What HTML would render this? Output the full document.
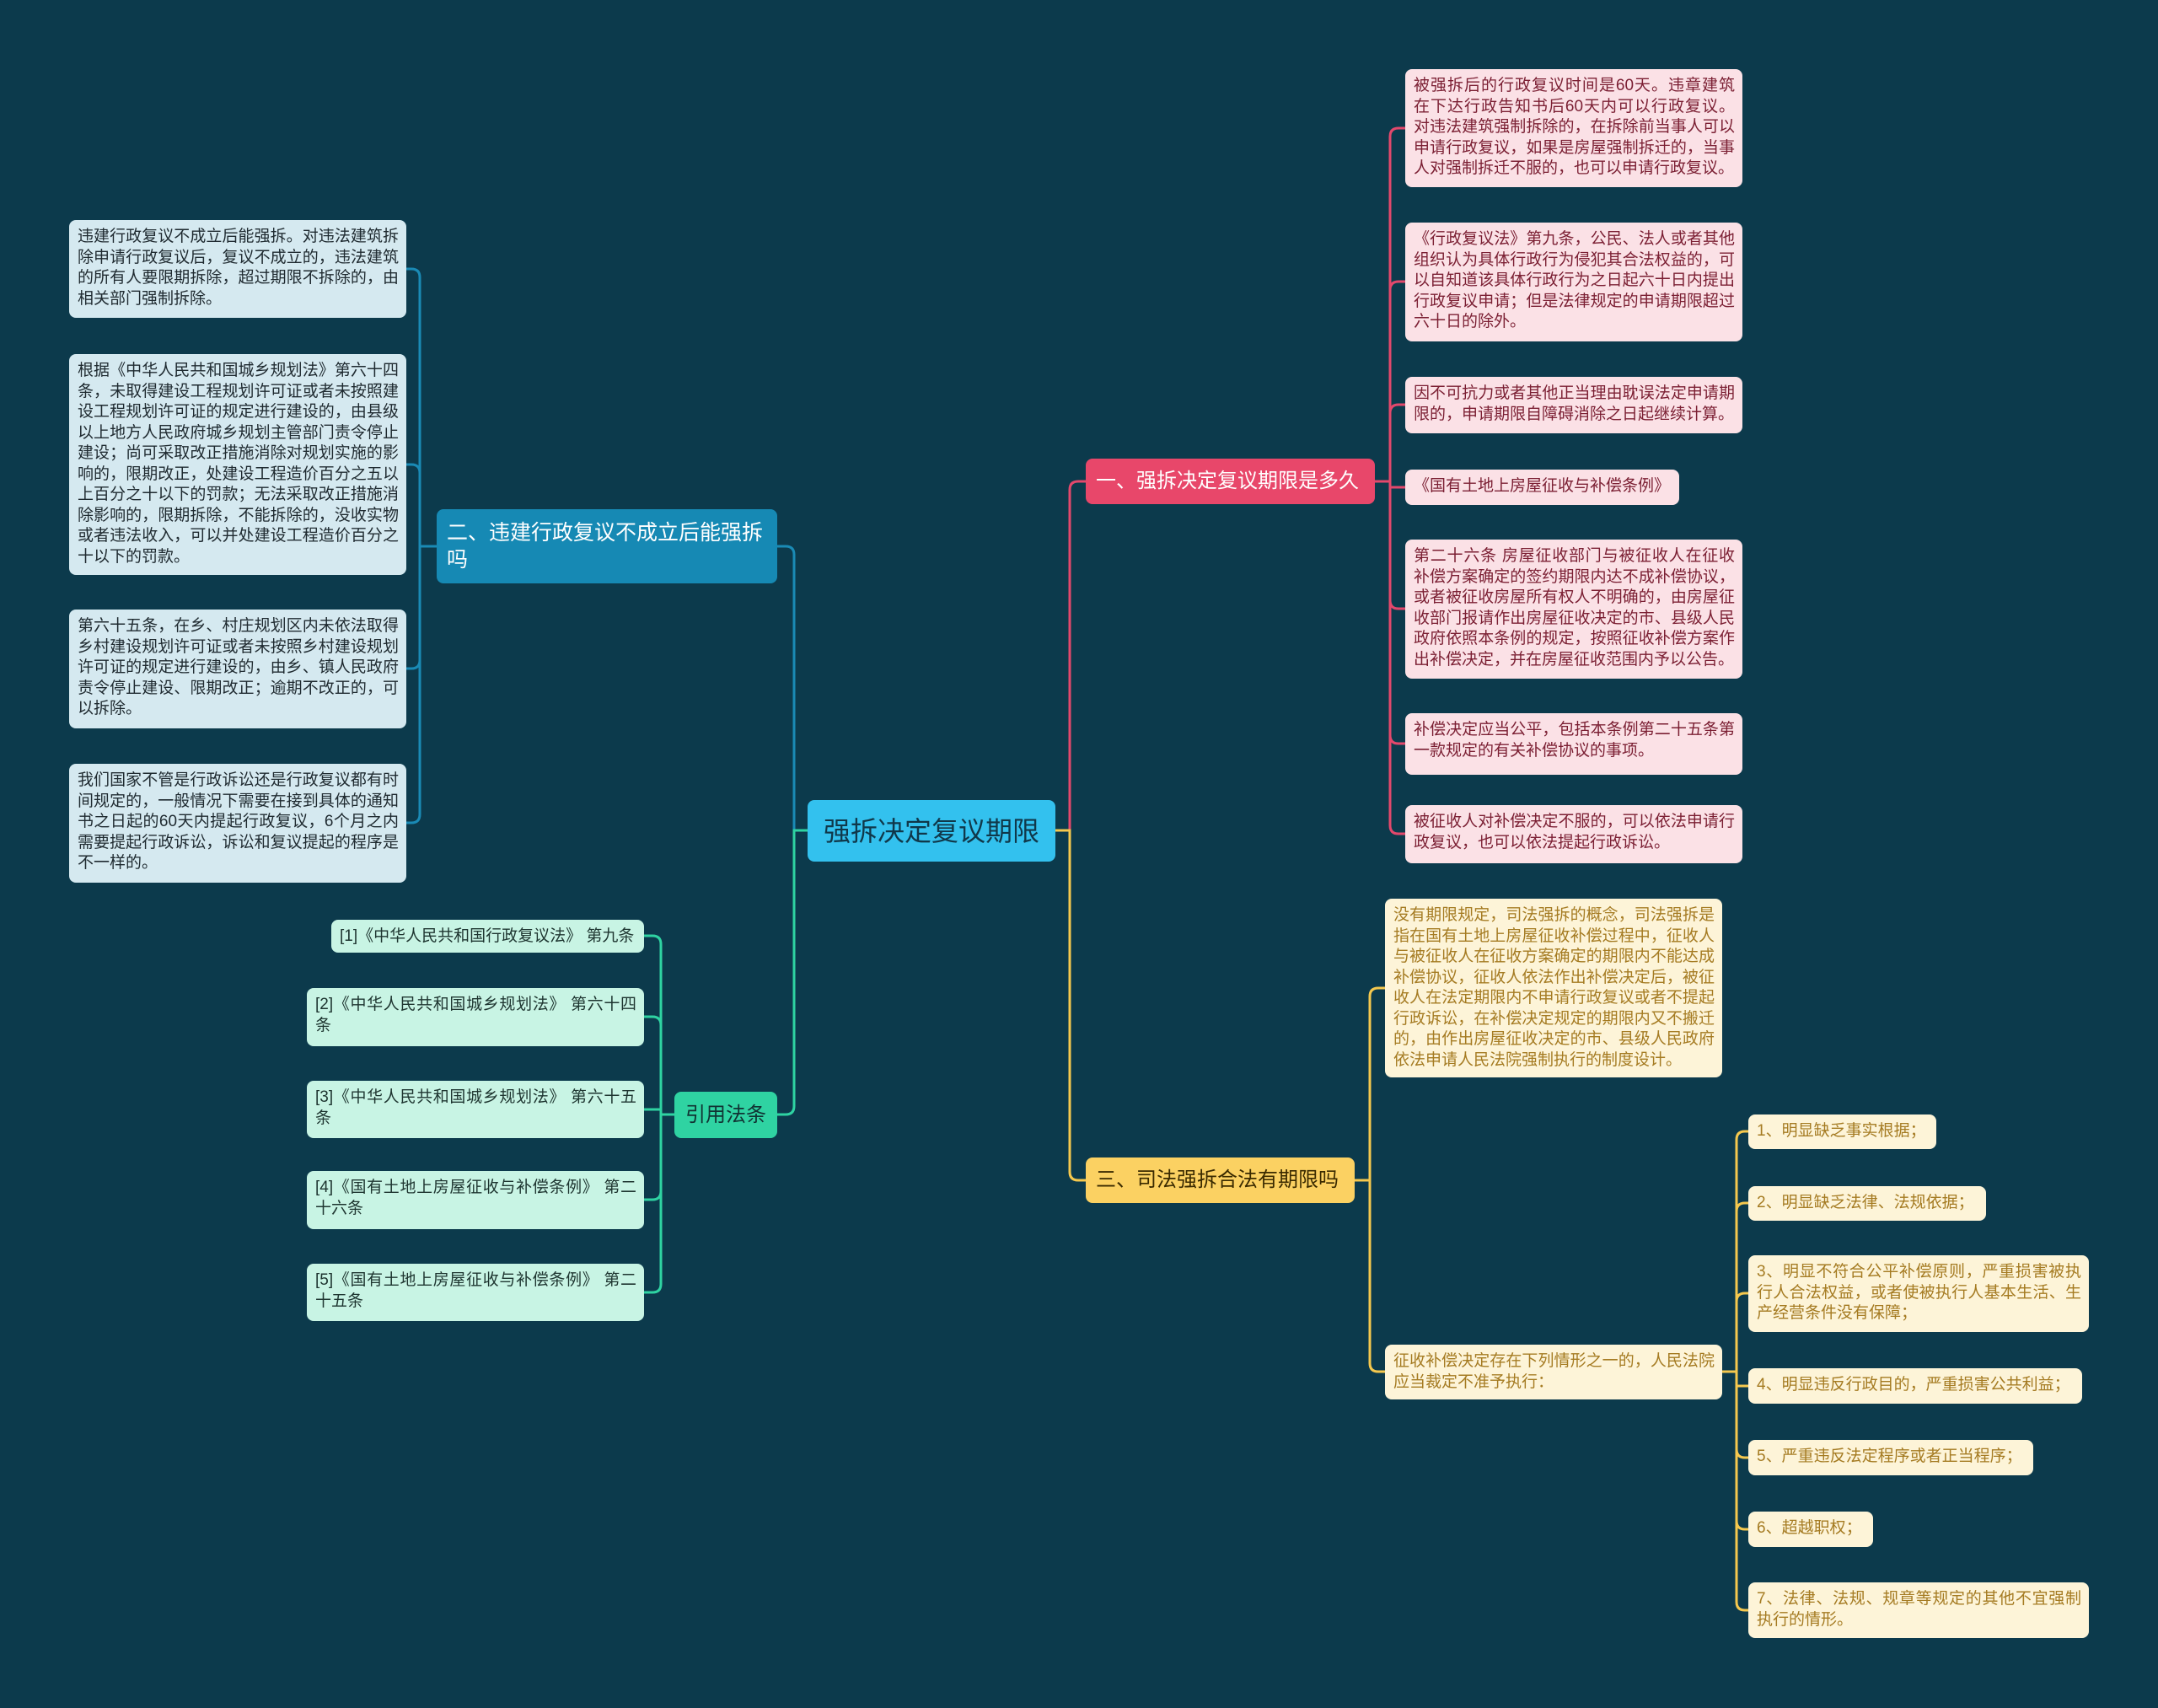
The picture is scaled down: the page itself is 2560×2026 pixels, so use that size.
<!DOCTYPE html>
<html><head><meta charset="utf-8"><style>
html,body{margin:0;padding:0}
body{width:2560px;height:2026px;background:#0c3a4c;position:relative;overflow:hidden;font-family:"Liberation Sans","Noto Sans CJK SC",sans-serif}
.n{position:absolute;box-sizing:border-box;border-radius:8px;font-size:19px;line-height:24.5px;padding:8px 9px 8px 10px;text-align:justify;word-break:break-all}
.p{background:#fbe1e6;color:#7b1f33}
.y{background:#fdf4d8;color:#a57b22}
.b{background:#d5e9f0;color:#1f2a30}
.g{background:#c8f4e4;color:#1e3530}
.br{position:absolute;box-sizing:border-box;border-radius:8px;font-size:24px;line-height:32px;padding:0 12px;display:flex;align-items:center}
svg{position:absolute;left:0;top:0}
</style></head><body>
<svg width="2560" height="2026" fill="none" stroke-width="3">
<g stroke="#e3486c">
<path d="M1252,985 H1269 V581 Q1269,571 1279,571 H1288"/>
<path d="M1631,571 H1649 V162 Q1649,152 1659,152 H1667"/>
<path d="M1649,571 V344 Q1649,334 1659,334 H1667"/>
<path d="M1649,571 V490 Q1649,480 1659,480 H1667"/>
<path d="M1649,571 V578 H1667"/>
<path d="M1649,571 V712 Q1649,722 1659,722 H1667"/>
<path d="M1649,571 V872 Q1649,882 1659,882 H1667"/>
<path d="M1649,571 V979 Q1649,989 1659,989 H1667"/>
</g>
<g stroke="#f5c84e">
<path d="M1252,985 H1269 V1390 Q1269,1400 1279,1400 H1288"/>
<path d="M1607,1400 H1625 V1182 Q1625,1172 1635,1172 H1643"/>
<path d="M1625,1400 V1617 Q1625,1627 1635,1627 H1643"/>
<path d="M2043,1627 H2060 V1352 Q2060,1342 2070,1342 H2074"/>
<path d="M2060,1627 V1437 Q2060,1427 2070,1427 H2074"/>
<path d="M2060,1627 V1544 Q2060,1534 2070,1534 H2074"/>
<path d="M2060,1627 V1644 H2074"/>
<path d="M2060,1627 V1719 Q2060,1729 2070,1729 H2074"/>
<path d="M2060,1627 V1804 Q2060,1814 2070,1814 H2074"/>
<path d="M2060,1627 V1900 Q2060,1910 2070,1910 H2074"/>
</g>
<g stroke="#1a8ab5">
<path d="M958,985 H942 V658 Q942,648 932,648 H922"/>
<path d="M518,648 H498 V329 Q498,319 488,319 H482"/>
<path d="M498,648 V561 Q498,551 488,551 H482"/>
<path d="M498,648 V783 Q498,793 488,793 H482"/>
<path d="M498,648 V966 Q498,976 488,976 H482"/>
</g>
<g stroke="#2fd3a2">
<path d="M958,985 H942 V1312 Q942,1322 932,1322 H922"/>
<path d="M800,1322 H784 V1120 Q784,1110 774,1110 H764"/>
<path d="M784,1322 V1216 Q784,1206 774,1206 H764"/>
<path d="M784,1322 V1316 H764"/>
<path d="M784,1322 V1413 Q784,1423 774,1423 H764"/>
<path d="M784,1322 V1523 Q784,1533 774,1533 H764"/>
</g>
</svg>

<div class="br" style="left:958px;top:949px;width:294px;height:73px;background:#33c1ee;color:#10384a;font-size:32px;justify-content:center;padding:0">强拆决定复议期限</div>
<div class="br" style="left:1288px;top:544px;width:343px;height:54px;background:#e8476a;color:#fff">一、强拆决定复议期限是多久</div>
<div class="br" style="left:1288px;top:1373px;width:319px;height:54px;background:#fbd162;color:#3a2a00">三、司法强拆合法有期限吗</div>
<div class="br" style="left:518px;top:604px;width:404px;height:88px;background:#1689b4;color:#fff;padding:4px 12px;font-size:25px">二、违建行政复议不成立后能强拆吗</div>
<div class="br" style="left:800px;top:1295px;width:122px;height:55px;background:#2fd3a2;color:#133;justify-content:center;padding:0">引用法条</div>

<div class="n p" style="left:1667px;top:82px;width:400px;height:140px">被强拆后的行政复议时间是60天。违章建筑在下达行政告知书后60天内可以行政复议。对违法建筑强制拆除的，在拆除前当事人可以申请行政复议，如果是房屋强制拆迁的，当事人对强制拆迁不服的，也可以申请行政复议。</div>
<div class="n p" style="left:1667px;top:264px;width:400px;height:141px">《行政复议法》第九条，公民、法人或者其他组织认为具体行政行为侵犯其合法权益的，可以自知道该具体行政行为之日起六十日内提出行政复议申请；但是法律规定的申请期限超过六十日的除外。</div>
<div class="n p" style="left:1667px;top:447px;width:400px;height:67px">因不可抗力或者其他正当理由耽误法定申请期限的，申请期限自障碍消除之日起继续计算。</div>
<div class="n p" style="left:1667px;top:557px;width:325px;height:42px">《国有土地上房屋征收与补偿条例》</div>
<div class="n p" style="left:1667px;top:640px;width:400px;height:165px">第二十六条 房屋征收部门与被征收人在征收补偿方案确定的签约期限内达不成补偿协议，或者被征收房屋所有权人不明确的，由房屋征收部门报请作出房屋征收决定的市、县级人民政府依照本条例的规定，按照征收补偿方案作出补偿决定，并在房屋征收范围内予以公告。</div>
<div class="n p" style="left:1667px;top:846px;width:400px;height:73px">补偿决定应当公平，包括本条例第二十五条第一款规定的有关补偿协议的事项。</div>
<div class="n p" style="left:1667px;top:955px;width:400px;height:69px">被征收人对补偿决定不服的，可以依法申请行政复议，也可以依法提起行政诉讼。</div>

<div class="n y" style="left:1643px;top:1066px;width:400px;height:212px">没有期限规定，司法强拆的概念，司法强拆是指在国有土地上房屋征收补偿过程中，征收人与被征收人在征收方案确定的期限内不能达成补偿协议，征收人依法作出补偿决定后，被征收人在法定期限内不申请行政复议或者不提起行政诉讼，在补偿决定规定的期限内又不搬迁的，由作出房屋征收决定的市、县级人民政府依法申请人民法院强制执行的制度设计。</div>
<div class="n y" style="left:1643px;top:1595px;width:400px;height:65px">征收补偿决定存在下列情形之一的，人民法院应当裁定不准予执行：</div>
<div class="n y" style="left:2074px;top:1322px;width:223px;height:41px">1、明显缺乏事实根据；</div>
<div class="n y" style="left:2074px;top:1407px;width:282px;height:41px">2、明显缺乏法律、法规依据；</div>
<div class="n y" style="left:2074px;top:1489px;width:404px;height:91px">3、明显不符合公平补偿原则，严重损害被执行人合法权益，或者使被执行人基本生活、生产经营条件没有保障；</div>
<div class="n y" style="left:2074px;top:1623px;width:396px;height:42px">4、明显违反行政目的，严重损害公共利益；</div>
<div class="n y" style="left:2074px;top:1708px;width:338px;height:42px">5、严重违反法定程序或者正当程序；</div>
<div class="n y" style="left:2074px;top:1793px;width:148px;height:42px">6、超越职权；</div>
<div class="n y" style="left:2074px;top:1877px;width:404px;height:66px">7、法律、法规、规章等规定的其他不宜强制执行的情形。</div>

<div class="n b" style="left:82px;top:261px;width:400px;height:116px">违建行政复议不成立后能强拆。对违法建筑拆除申请行政复议后，复议不成立的，违法建筑的所有人要限期拆除，超过期限不拆除的，由相关部门强制拆除。</div>
<div class="n b" style="left:82px;top:420px;width:400px;height:262px">根据《中华人民共和国城乡规划法》第六十四条，未取得建设工程规划许可证或者未按照建设工程规划许可证的规定进行建设的，由县级以上地方人民政府城乡规划主管部门责令停止建设；尚可采取改正措施消除对规划实施的影响的，限期改正，处建设工程造价百分之五以上百分之十以下的罚款；无法采取改正措施消除影响的，限期拆除，不能拆除的，没收实物或者违法收入，可以并处建设工程造价百分之十以下的罚款。</div>
<div class="n b" style="left:82px;top:723px;width:400px;height:141px">第六十五条，在乡、村庄规划区内未依法取得乡村建设规划许可证或者未按照乡村建设规划许可证的规定进行建设的，由乡、镇人民政府责令停止建设、限期改正；逾期不改正的，可以拆除。</div>
<div class="n b" style="left:82px;top:906px;width:400px;height:141px">我们国家不管是行政诉讼还是行政复议都有时间规定的，一般情况下需要在接到具体的通知书之日起的60天内提起行政复议，6个月之内需要提起行政诉讼，诉讼和复议提起的程序是不一样的。</div>

<div class="n g" style="left:393px;top:1091px;width:371px;height:39px">[1]《中华人民共和国行政复议法》 第九条</div>
<div class="n g" style="left:364px;top:1172px;width:400px;height:69px">[2]《中华人民共和国城乡规划法》 第六十四条</div>
<div class="n g" style="left:364px;top:1282px;width:400px;height:68px">[3]《中华人民共和国城乡规划法》 第六十五条</div>
<div class="n g" style="left:364px;top:1389px;width:400px;height:69px">[4]《国有土地上房屋征收与补偿条例》 第二十六条</div>
<div class="n g" style="left:364px;top:1499px;width:400px;height:68px">[5]《国有土地上房屋征收与补偿条例》 第二十五条</div>
</body></html>
